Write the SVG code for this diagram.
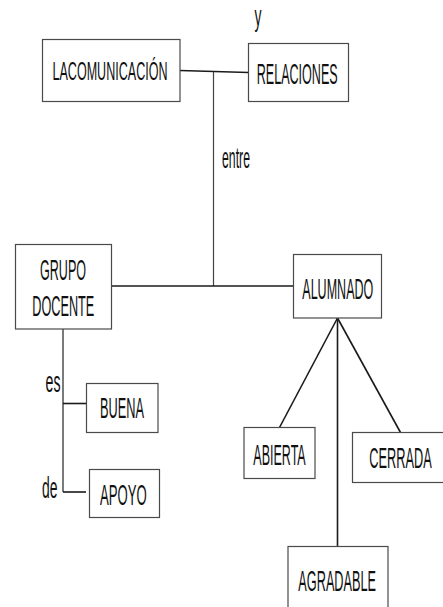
<svg xmlns="http://www.w3.org/2000/svg" width="443" height="607" viewBox="0 0 443 607">
<style>
rect{fill:#fff;stroke:#4a4a4a;stroke-width:1.2}
text{font-family:"Liberation Sans",Arial,sans-serif;font-size:29px;fill:#111;text-anchor:middle}
.w{text-anchor:start}
.c line{stroke:#1a1a1a;stroke-width:1.6}
</style>
<rect x="0" y="0" width="443" height="607" style="stroke:none"/>
<g class="c" id="connectors">
<line x1="180" y1="70.5" x2="248.5" y2="72.5"/>
<line x1="213.5" y1="72" x2="213.5" y2="286" style="stroke:#444;stroke-width:1.2"/>
<line x1="111.5" y1="286" x2="293.5" y2="286"/>
<line x1="337.5" y1="318" x2="279.5" y2="427.5"/>
<line x1="337.5" y1="318" x2="337.5" y2="546.5"/>
<line x1="337.5" y1="318" x2="400.5" y2="432.5"/>
<line x1="63" y1="329" x2="63" y2="492" style="stroke:#333;stroke-width:1.3"/>
<line x1="63" y1="403.5" x2="86.5" y2="403.5"/>
<line x1="63" y1="492" x2="86" y2="492"/>
</g>
<g id="labels">
<text class="w" x="254.5" y="26" textLength="7" lengthAdjust="spacingAndGlyphs">y</text>
<text class="w" x="222" y="168.3" textLength="28" lengthAdjust="spacingAndGlyphs">entre</text>
<text class="w" x="45.5" y="392.3" textLength="15" lengthAdjust="spacingAndGlyphs">es</text>
<text class="w" x="42" y="498.3" textLength="15.5" lengthAdjust="spacingAndGlyphs">de</text>
</g>
<g id="lacomunicacion">
<rect x="42.5" y="39.5" width="137.5" height="62"/>
<text x="110" y="80" style="font-size:26px" textLength="115" lengthAdjust="spacingAndGlyphs">LACOMUNICACIÓN</text>
</g>
<g id="relaciones">
<rect x="248.5" y="43.5" width="100" height="58"/>
<text x="297.2" y="84" textLength="81" lengthAdjust="spacingAndGlyphs">RELACIONES</text>
</g>
<g id="grupo-docente">
<rect x="15.5" y="244.5" width="96" height="84.5"/>
<text x="63" y="280" textLength="46" lengthAdjust="spacingAndGlyphs">GRUPO</text>
<text x="63.3" y="316" textLength="62" lengthAdjust="spacingAndGlyphs">DOCENTE</text>
</g>
<g id="alumnado">
<rect x="293.5" y="254.5" width="88" height="63.5"/>
<text x="337.8" y="299.3" textLength="71" lengthAdjust="spacingAndGlyphs">ALUMNADO</text>
</g>
<g id="buena">
<rect x="86.5" y="383.5" width="71.5" height="49"/>
<text x="122" y="417.7" textLength="44" lengthAdjust="spacingAndGlyphs">BUENA</text>
</g>
<g id="apoyo">
<rect x="89.5" y="469.5" width="70" height="48"/>
<text x="123.3" y="505" textLength="46.7" lengthAdjust="spacingAndGlyphs">APOYO</text>
</g>
<g id="abierta">
<rect x="244" y="427.5" width="71" height="51"/>
<text x="279.5" y="465" textLength="52.4" lengthAdjust="spacingAndGlyphs">ABIERTA</text>
</g>
<g id="cerrada">
<rect x="352.5" y="432.5" width="95" height="50"/>
<text x="400.5" y="468.3" textLength="62.4" lengthAdjust="spacingAndGlyphs">CERRADA</text>
</g>
<g id="agradable">
<rect x="288" y="546.5" width="100" height="70"/>
<text x="337.2" y="590.7" textLength="77.7" lengthAdjust="spacingAndGlyphs">AGRADABLE</text>
</g>
</svg>
